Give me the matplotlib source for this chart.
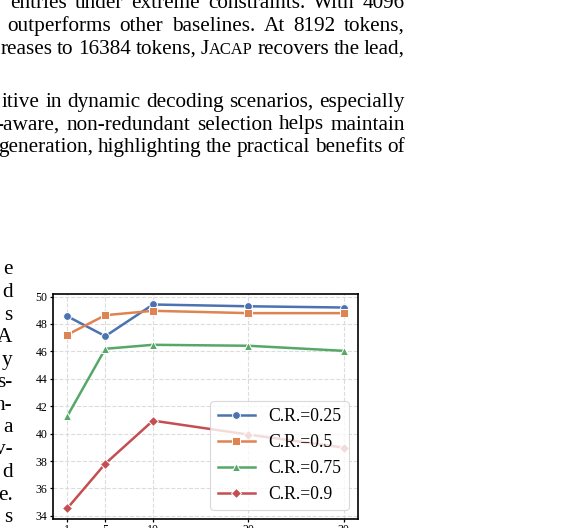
import matplotlib
matplotlib.use('Agg')
import matplotlib.pyplot as plt

# ---------------- data ----------------
x_vals = [1, 5, 10, 20, 30]
series_labels = ['C.R.=0.25', 'C.R.=0.5', 'C.R.=0.75', 'C.R.=0.9']
cr_025 = [48.57, 47.11, 49.42, 49.29, 49.20]
cr_05 = [47.21, 48.64, 48.96, 48.79, 48.79]
cr_075 = [41.26, 46.19, 46.48, 46.41, 46.04]
cr_09 = [34.54, 37.81, 40.95, 39.93, 38.98]
y_ticks = [34, 36, 38, 40, 42, 44, 46, 48, 50]

# page text fragments visible around the chart
top_lines = [
    "V entries under extreme constraints.  With 4096",
    "outperforms other baselines.  At 8192 tokens,",
    "reases to 16384 tokens, JACAP recovers the lead,",
    "itive in dynamic decoding scenarios, especially",
    "-aware, non-redundant selection helps maintain",
    "generation, highlighting the practical benefits of",
]
left_col = ["e", "d", "s", "A", "y", "s-", "n-", "a", "v-", "d", "e.", "s"]

colors = ['#4C72B0', '#DD8452', '#55A868', '#C44E52']
markers = ['o', 's', '^', 'D']

W, H = 573, 528
plt.rcParams['font.family'] = ['Liberation Serif', 'DejaVu Serif']
fig = plt.figure(figsize=(W / 100, H / 100), dpi=100)

def px(x, y):
    return x / W, 1 - y / H

BODY = 15.3
RIGHT = 405.0
renderer = fig.canvas.get_renderer()

def word_pieces(word):
    # small caps for the method name
    if word.startswith("JACAP"):
        return [("J", BODY), ("ACAP", BODY * 0.78), (word[5:], BODY)] if word[5:] else [("J", BODY), ("ACAP", BODY * 0.78)]
    return [(word, BODY)]

def measure(s, size):
    t = fig.text(0, 0, s, fontsize=size)
    w = t.get_window_extent(renderer).width
    t.remove()
    return w

def draw_justified(line, sx, by):
    words = line.split()
    widths = []
    for w in words:
        widths.append(sum(measure(p, sz) for p, sz in word_pieces(w)))
    gap = (RIGHT - sx - sum(widths)) / (len(words) - 1)
    x = sx
    for w, wd in zip(words, widths):
        xx = x
        for p, sz in word_pieces(w):
            fig.text(*px(xx, by), p, fontsize=sz, ha='left', va='baseline')
            xx += measure(p, sz)
        x += wd + gap

# top paragraph lines (start x, baseline y)
starts = [(-13.5, 8), (7, 31), (0.5, 54), (1.5, 107), (-3.5, 129.5), (-2, 152)]
for line, (sx, by) in zip(top_lines, starts):
    draw_justified(line, sx, by)

# left column line endings
for i, s in enumerate(left_col):
    fig.text(*px(12.5, 274.5 + 22.5 * i), s, fontsize=BODY, ha='right', va='baseline')

# ---------------- chart ----------------
ax = fig.add_axes([53.3 / W, 1 - 518.7 / H, (357.7 - 53.3) / W, (518.7 - 294.3) / H])
all_series = [cr_025, cr_05, cr_075, cr_09]
for vals, lab, c, m in zip(all_series, series_labels, colors, markers):
    ms = 5.6 if m != 'D' else 5.2
    ax.plot(x_vals, vals, color=c, marker=m, markersize=ms, linewidth=1.8,
            markeredgecolor='white', markeredgewidth=0.7, label=lab)

ax.set_xticks(x_vals)
ax.set_yticks(y_ticks)
ax.grid(True, linestyle='--', color='#dcdcdc', linewidth=0.8)
ax.set_axisbelow(True)
for sp in ax.spines.values():
    sp.set_color('black')
    sp.set_linewidth(1.2)
ax.tick_params(axis='y', labelsize=8.6, length=2.2, width=0.9, pad=2.2, direction='out')
ax.tick_params(axis='x', labelsize=8.6, length=2.5, width=0.9, pad=1.0, direction='out')

leg = ax.legend(loc='lower right', fontsize=12.7, frameon=True, framealpha=0.8,
                edgecolor='#d0d0d0', fancybox=True, handlelength=2.1)
leg.get_frame().set_linewidth(0.8)

fig.savefig('out.png', dpi=100)
